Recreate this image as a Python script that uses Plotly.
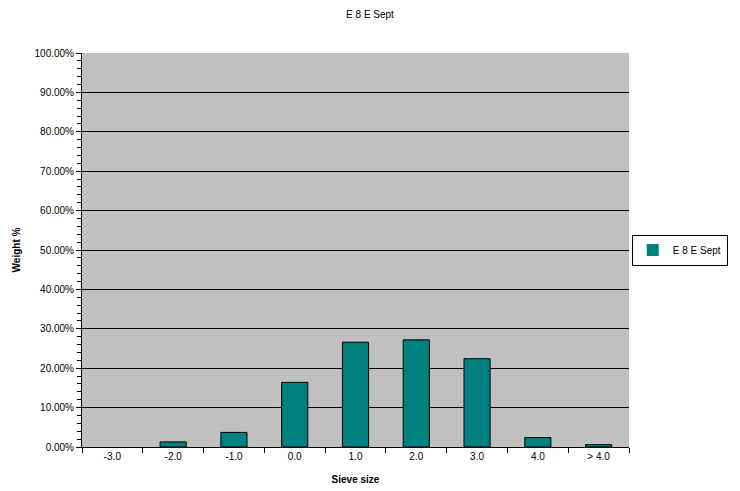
import plotly.graph_objects as go

categories = ["-3.0", "-2.0", "-1.0", "0.0", "1.0", "2.0", "3.0", "4.0", "> 4.0"]
weights = [0.0, 0.013, 0.037, 0.164, 0.266, 0.272, 0.224, 0.024, 0.006]
series_name = "E 8 E Sept"

font = "Liberation Sans, Arial, sans-serif"

# no outline drawn for empty (zero-height) bars
outline_widths = [0 if w == 0 else 1 for w in weights]

fig = go.Figure()
fig.add_trace(go.Bar(
    x=categories, y=weights, name=series_name,
    marker=dict(color="#008080", line=dict(color="black", width=outline_widths)),
    showlegend=True,
))

fig.update_layout(
    width=740, height=491,
    margin=dict(l=82, r=108, t=53, b=44),
    paper_bgcolor="white", plot_bgcolor="#C0C0C0",
    font=dict(family=font, size=10, color="black"),
    title=dict(text="E 8 E Sept", x=0.5, xref="container", y=0.97, yref="container",
               xanchor="center", yanchor="middle", font=dict(size=10)),
    bargap=0.57,
    showlegend=True,
    legend=dict(x=1.005, y=0.5, xanchor="left", yanchor="middle",
                bgcolor="white", bordercolor="black", borderwidth=1,
                font=dict(size=10), itemwidth=30, tracegroupgap=0),
    xaxis=dict(
        type="category", showline=True, linecolor="black", linewidth=1,
        ticks="outside", tickson="boundaries", ticklen=5, tickcolor="black",
        showgrid=False, tickfont=dict(size=10), automargin=False,
        title=dict(text="<b>Sieve size</b>", font=dict(size=10), standoff=14),
    ),
    yaxis=dict(
        range=[0, 1.0], dtick=0.1, tickformat=".2%",
        showline=True, linecolor="black", linewidth=1,
        ticks="outside", ticklen=5, tickcolor="black",
        showgrid=True, gridcolor="black", gridwidth=1,
        zeroline=False, automargin=False,
        minor=dict(dtick=0.02, ticks="outside", ticklen=4, tickcolor="black", showgrid=False),
        tickfont=dict(size=10),
        title=dict(text="<b>Weight %</b>", font=dict(size=10), standoff=12),
    ),
)

fig.write_html("out.html")
